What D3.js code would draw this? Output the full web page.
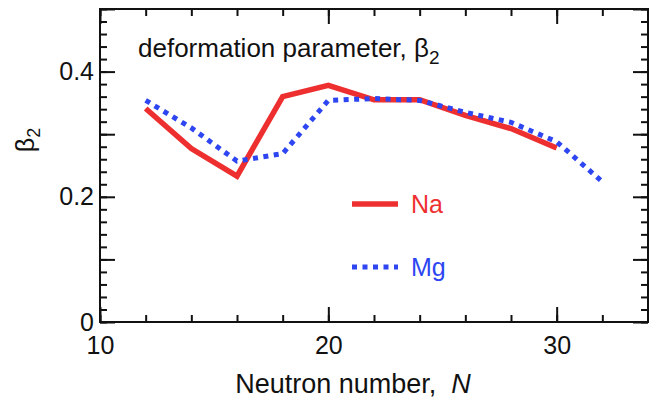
<!DOCTYPE html>
<html>
<head>
<meta charset="utf-8">
<script src="https://cdn.jsdelivr.net/npm/d3@7"></script>
<style>
  html, body { margin: 0; padding: 0; background: #fff; }
  svg { display: block; font-family: "Liberation Sans", Arial, sans-serif; }
</style>
</head>
<body>
<div id="chart"></div>
<script>
// Deformation parameter beta2 vs neutron number for Na and Mg isotopes

const neutronNa = [12, 14, 16, 18, 20, 22, 24, 26, 28, 30];
const beta2Na   = [0.341, 0.277, 0.233, 0.360, 0.378, 0.355, 0.355, 0.330, 0.309, 0.278];

const neutronMg = [12, 14, 16, 18, 20, 22, 24, 26, 28, 30, 32];
const beta2Mg   = [0.354, 0.310, 0.257, 0.269, 0.354, 0.357, 0.354, 0.335, 0.319, 0.288, 0.224];

const xLabelTicks = [10, 20, 30];
const yLabelTicks = [0, 0.2, 0.4];

const width = 649, height = 400;
const margin = { top: 9, right: 1, bottom: 78, left: 100 };

const svg = d3.select('#chart')
  .append('svg')
  .attr('width', width)
  .attr('height', height);

const x = d3.scaleLinear().domain([10, 34]).range([margin.left, width - margin.right]);
const y = d3.scaleLinear().domain([0, 0.5]).range([height - margin.bottom, margin.top]);

const x0 = x.range()[0], x1 = x.range()[1];
const y0 = y.range()[0], y1 = y.range()[1];

const minorX = d3.range(10, 34.01, 2);
const majorX = d3.range(10, 34.01, 10);
const minorY = d3.range(0, 0.501, 0.02);
const majorY = d3.range(0, 0.501, 0.1);

function styleAxis(g) {
  g.select('.domain').remove();
  g.selectAll('.tick line').attr('stroke', '#111').attr('stroke-width', 2);
  g.selectAll('.tick text')
    .attr('fill', '#111')
    .style('font-size', '25px')
    .style('font-family', '"Liberation Sans", Arial, sans-serif');
}

// inward ticks on all four sides
svg.append('g').attr('transform', `translate(0,${y0})`)
  .call(d3.axisBottom(x).tickValues(minorX).tickSize(-7).tickFormat(''))
  .call(styleAxis);
svg.append('g').attr('transform', `translate(0,${y0})`)
  .call(d3.axisBottom(x).tickValues(majorX).tickSize(-15).tickFormat(''))
  .call(styleAxis);
svg.append('g').attr('transform', `translate(0,${y1})`)
  .call(d3.axisTop(x).tickValues(minorX).tickSize(-7).tickFormat(''))
  .call(styleAxis);
svg.append('g').attr('transform', `translate(0,${y1})`)
  .call(d3.axisTop(x).tickValues(majorX).tickSize(-15).tickFormat(''))
  .call(styleAxis);

svg.append('g').attr('transform', `translate(${x0},0)`)
  .call(d3.axisLeft(y).tickValues(minorY).tickSize(-7).tickFormat(''))
  .call(styleAxis);
svg.append('g').attr('transform', `translate(${x0},0)`)
  .call(d3.axisLeft(y).tickValues(majorY).tickSize(-15).tickFormat(''))
  .call(styleAxis);
svg.append('g').attr('transform', `translate(${x1},0)`)
  .call(d3.axisRight(y).tickValues(minorY).tickSize(-7).tickFormat(''))
  .call(styleAxis);
svg.append('g').attr('transform', `translate(${x1},0)`)
  .call(d3.axisRight(y).tickValues(majorY).tickSize(-15).tickFormat(''))
  .call(styleAxis);

// tick labels
svg.append('g').attr('transform', `translate(0,${y0})`)
  .call(d3.axisBottom(x).tickValues(xLabelTicks).tickSize(0).tickPadding(14).tickFormat(d3.format('d')))
  .call(styleAxis);
svg.append('g').attr('transform', `translate(${x0},0)`)
  .call(d3.axisLeft(y).tickValues(yLabelTicks).tickSize(0).tickPadding(6).tickFormat(d => d === 0 ? '0' : d3.format('.1f')(d)))
  .call(styleAxis);

// frame
svg.append('rect')
  .attr('x', x0).attr('y', y1)
  .attr('width', x1 - x0).attr('height', y0 - y1)
  .attr('fill', 'none').attr('stroke', '#111').attr('stroke-width', 2);

// series
const line = d3.line().x(d => x(d[0])).y(d => y(d[1]));

svg.append('path')
  .datum(d3.zip(neutronNa, beta2Na))
  .attr('d', line)
  .attr('fill', 'none')
  .attr('stroke', '#ee2f2f')
  .attr('stroke-width', 5.5)
  .attr('stroke-linejoin', 'miter');

svg.append('path')
  .datum(d3.zip(neutronMg, beta2Mg))
  .attr('d', line)
  .attr('fill', 'none')
  .attr('stroke', '#2d46f2')
  .attr('stroke-width', 5)
  .attr('stroke-dasharray', '5,5.5');

// legend
const legend = svg.append('g');
legend.append('line')
  .attr('x1', 352).attr('x2', 398).attr('y1', 204).attr('y2', 204)
  .attr('stroke', '#ee2f2f').attr('stroke-width', 5.5);
legend.append('text')
  .attr('x', 411).attr('y', 204).attr('dy', '0.35em')
  .attr('fill', '#ee2f2f').style('font-size', '25px')
  .text('Na');
legend.append('line')
  .attr('x1', 352).attr('x2', 398).attr('y1', 267).attr('y2', 267)
  .attr('stroke', '#2d46f2').attr('stroke-width', 5).attr('stroke-dasharray', '5,5.5');
legend.append('text')
  .attr('x', 411).attr('y', 267).attr('dy', '0.35em')
  .attr('fill', '#2d46f2').style('font-size', '25px')
  .text('Mg');

// annotation
const title = svg.append('text')
  .attr('x', 138).attr('y', 57)
  .attr('fill', '#111').style('font-size', '26px');
title.append('tspan').text('deformation parameter, β');
title.append('tspan').attr('dy', 7).style('font-size', '19px').text('2');

// axis labels
const xl = svg.append('text')
  .attr('x', 353).attr('y', 393)
  .attr('text-anchor', 'middle')
  .attr('fill', '#111').style('font-size', '27px')
  .attr('xml:space', 'preserve');
xl.append('tspan').text('Neutron number,  ');
xl.append('tspan').style('font-style', 'italic').text('N');

const yl = svg.append('text')
  .attr('transform', 'translate(34,140) rotate(-90)')
  .attr('text-anchor', 'middle')
  .attr('fill', '#111').style('font-size', '25px');
yl.append('tspan').text('β');
yl.append('tspan').attr('dy', 6).style('font-size', '18px').text('2');
</script>
</body>
</html>
